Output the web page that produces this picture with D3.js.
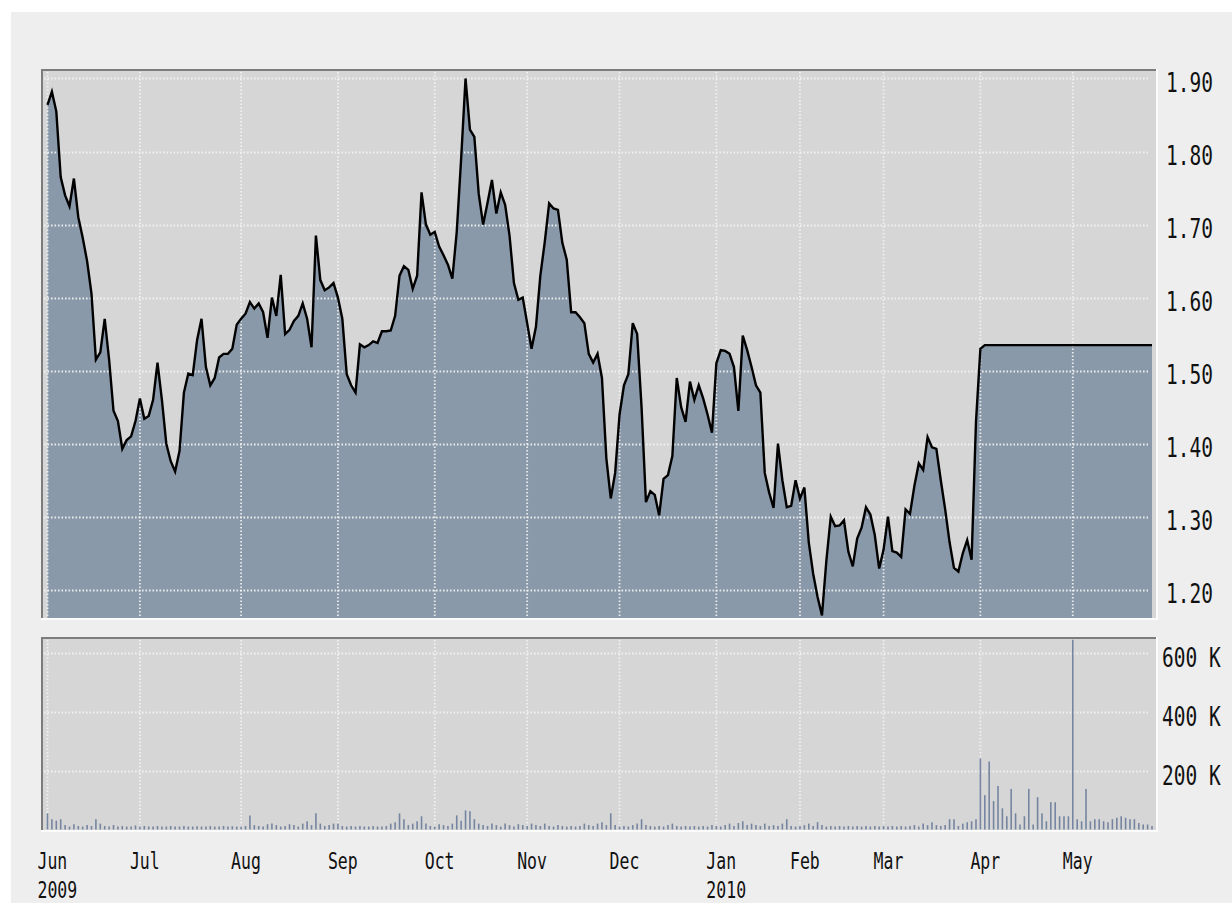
<!DOCTYPE html>
<html>
<head>
<meta charset="utf-8">
<script src="https://cdn.jsdelivr.net/npm/d3@7/dist/d3.min.js"></script>
<style>
  html, body { margin: 0; padding: 0; background: #ffffff; }
  svg { display: block; }
  text { font-family: "DejaVu Sans Mono", "Liberation Mono", monospace; fill: #111; }
</style>
</head>
<body>
<svg id="chart" width="1232" height="903"></svg>
<script>
// ---------------- DATA ----------------
// Daily closing price, one value per trading day (Jun 2009 - May 2010)
const prices = [
  1.864, 1.882, 1.855, 1.765, 1.740, 1.725, 1.763, 1.710, 1.682, 1.650,
  1.605, 1.515, 1.525, 1.571, 1.515, 1.445, 1.431, 1.393, 1.405, 1.410,
  1.431, 1.462, 1.434, 1.438, 1.460, 1.511, 1.460, 1.400, 1.376, 1.362,
  1.390, 1.470, 1.496, 1.494, 1.542, 1.571, 1.505, 1.480, 1.490, 1.518,
  1.523, 1.523, 1.530, 1.563, 1.571, 1.578, 1.594, 1.585, 1.592, 1.580,
  1.545, 1.600, 1.575, 1.631, 1.550, 1.556, 1.568, 1.575, 1.592, 1.571,
  1.532, 1.685, 1.624, 1.610, 1.614, 1.620, 1.600, 1.571, 1.495, 1.480,
  1.470, 1.536, 1.532, 1.535, 1.540, 1.538, 1.554, 1.554, 1.555, 1.575,
  1.630, 1.643, 1.638, 1.612, 1.630, 1.744, 1.700, 1.686, 1.690, 1.670,
  1.658, 1.645, 1.626, 1.690, 1.790, 1.900, 1.830, 1.820, 1.742, 1.700,
  1.730, 1.761, 1.715, 1.744, 1.727, 1.685, 1.620, 1.597, 1.600, 1.565,
  1.530, 1.560, 1.630, 1.676, 1.729, 1.722, 1.720, 1.675, 1.652, 1.580,
  1.580, 1.573, 1.565, 1.523, 1.511, 1.523, 1.490, 1.380, 1.325, 1.360,
  1.440, 1.480, 1.495, 1.565, 1.550, 1.450, 1.320, 1.335, 1.330, 1.302,
  1.352, 1.357, 1.383, 1.490, 1.450, 1.430, 1.485, 1.460, 1.480, 1.462,
  1.440, 1.415, 1.510, 1.528, 1.527, 1.523, 1.505, 1.445, 1.548, 1.528,
  1.505, 1.480, 1.470, 1.360, 1.333, 1.312, 1.400, 1.350, 1.313, 1.315,
  1.350, 1.325, 1.340, 1.265, 1.222, 1.190, 1.165, 1.240, 1.300, 1.287,
  1.288, 1.295, 1.252, 1.232, 1.270, 1.285, 1.313, 1.303, 1.275, 1.229,
  1.255, 1.300, 1.253, 1.251, 1.245, 1.310, 1.304, 1.342, 1.373, 1.364,
  1.409, 1.395, 1.393, 1.350, 1.310, 1.265, 1.230, 1.225, 1.250, 1.268,
  1.241, 1.430, 1.530, 1.535, 1.535, 1.535, 1.535, 1.535, 1.535, 1.535,
  1.535, 1.535, 1.535, 1.535, 1.535, 1.535, 1.535, 1.535, 1.535, 1.535,
  1.535, 1.535, 1.535, 1.535, 1.535, 1.535, 1.535, 1.535, 1.535, 1.535,
  1.535, 1.535, 1.535, 1.535, 1.535, 1.535, 1.535, 1.535, 1.535, 1.535,
  1.535, 1.535
];

// Daily volume in thousands of shares
const volumes = [
  55, 35, 30, 35, 15, 10, 18, 12, 10, 15,
  12, 35, 20, 12, 10, 15, 10, 12, 10, 10,
  14, 10, 12, 10, 10, 12, 10, 10, 12, 10,
  10, 12, 10, 10, 11, 10, 10, 12, 10, 10,
  12, 10, 11, 10, 10, 12, 48, 15, 12, 10,
  18, 20, 15, 10, 12, 18, 15, 10, 20, 28,
  15, 55, 20, 12, 15, 20, 20, 12, 10, 12,
  10, 12, 10, 10, 12, 10, 10, 12, 20, 25,
  55, 35, 15, 20, 28, 45, 20, 12, 10, 18,
  15, 12, 20, 48, 30, 65, 62, 35, 20, 15,
  12, 20, 15, 10, 20, 15, 10, 18, 15, 12,
  20, 15, 12, 20, 12, 10, 15, 12, 10, 12,
  10, 12, 20, 15, 12, 20, 25, 15, 55, 15,
  10, 12, 10, 15, 20, 35, 15, 12, 10, 12,
  10, 15, 20, 12, 10, 12, 10, 12, 10, 12,
  10, 15, 12, 10, 15, 20, 12, 22, 28, 15,
  20, 15, 12, 20, 12, 15, 12, 20, 35, 12,
  10, 12, 15, 20, 12, 25, 15, 10, 12, 10,
  12, 10, 12, 10, 12, 10, 12, 10, 12, 10,
  12, 10, 12, 10, 12, 10, 12, 15, 10, 20,
  15, 25, 15, 12, 15, 35, 35, 12, 20, 25,
  28, 35, 241, 117, 231, 97, 148, 72, 45, 138,
  55, 17, 45, 138, 17, 110, 55, 28, 93, 93,
  45, 45, 45, 645, 35, 28, 138, 28, 35, 35,
  28, 25, 35, 40, 45, 40, 35, 35, 22, 17,
  17, 12
];

// Month ticks: label and index of the month's first trading day
const monthLabels = ["Jun", "Jul", "Aug", "Sep", "Oct", "Nov", "Dec", "Jan", "Feb", "Mar", "Apr", "May"];
const monthStart  = [0, 21, 44, 66, 88, 109, 130, 152, 171, 190, 212, 233];
const yearLabels  = ["2009", "2010"];
const yearStart   = [0, 152];

const priceTicks  = [1.90, 1.80, 1.70, 1.60, 1.50, 1.40, 1.30, 1.20];
const volumeTicks = [600, 400, 200];

// ---------------- LAYOUT ----------------
const svg = d3.select("#chart");
const W = 1232, H = 903;

const P = { left: 43, right: 1156, top: 71, bottom: 618 };   // price plot inner box
const V = { left: 43, right: 1156, top: 639, bottom: 830 };  // volume plot inner box

const n = prices.length;
const x = d3.scaleLinear().domain([0, n - 1]).range([47.5, 1152]);
const yP = d3.scaleLinear().domain([1.16, 1.9116]).range([619, 70]);
const yV = d3.scaleLinear().domain([0, 600]).range([829.5, 653]);

// outer panel
svg.append("rect").attr("x", 11).attr("y", 12).attr("width", W - 11).attr("height", H - 12).attr("fill", "#eeeeee");

function panel(b) {
  const g = svg.append("g");
  g.append("rect").attr("x", b.left - 2).attr("y", b.top - 2)
    .attr("width", b.right - b.left + 4).attr("height", b.bottom - b.top + 4).attr("fill", "#fbfbfb");
  g.append("rect").attr("x", b.left - 2).attr("y", b.top - 2)
    .attr("width", b.right - b.left + 2).attr("height", b.bottom - b.top + 2).attr("fill", "#7c7c7c");
  g.append("rect").attr("x", b.left).attr("y", b.top)
    .attr("width", b.right - b.left).attr("height", b.bottom - b.top).attr("fill", "#d6d6d6");
  return g;
}

// ---------------- PRICE PANEL ----------------
panel(P);
const gp = svg.append("g");

const area = d3.area().x((d, i) => x(i)).y0(P.bottom).y1(d => yP(d));
gp.append("path").datum(prices).attr("d", area).attr("fill", "#8a99aa");

const gridStyle = sel => sel.attr("stroke", "#f4f4f4").attr("stroke-width", 1.8)
  .attr("stroke-dasharray", "1.6,1.9").attr("opacity", 0.9);

gp.selectAll("line.hg").data(priceTicks).join("line")
  .attr("x1", P.left + 1).attr("x2", 1148)
  .attr("y1", d => Math.round(yP(d)) + 0.5).attr("y2", d => Math.round(yP(d)) + 0.5)
  .call(gridStyle);
gp.selectAll("line.vg").data(monthStart).join("line")
  .attr("x1", d => x(d)).attr("x2", d => x(d))
  .attr("y1", P.top + 1).attr("y2", P.bottom)
  .call(gridStyle);

const line = d3.line().x((d, i) => x(i)).y(d => yP(d));
gp.append("path").datum(prices).attr("d", line)
  .attr("fill", "none").attr("stroke", "#000").attr("stroke-width", 2.4).attr("stroke-linejoin", "miter");

// price labels
svg.append("g").selectAll("text").data(priceTicks).join("text")
  .attr("transform", d => `translate(1166,${yP(d) + 13.5}) scale(1,1.38)`)
  .attr("font-size", 19.5)
  .text(d => d.toFixed(2));

// ---------------- VOLUME PANEL ----------------
panel(V);
const gv = svg.append("g");

gv.selectAll("line.hg").data(volumeTicks).join("line")
  .attr("x1", V.left + 1).attr("x2", 1148)
  .attr("y1", d => Math.round(yV(d)) + 0.5).attr("y2", d => Math.round(yV(d)) + 0.5)
  .call(gridStyle);
gv.selectAll("line.vg").data(monthStart).join("line")
  .attr("x1", d => x(d)).attr("x2", d => x(d))
  .attr("y1", V.top + 1).attr("y2", V.bottom)
  .call(gridStyle);

gv.selectAll("line.bar").data(volumes).join("line")
  .attr("x1", (d, i) => x(i)).attr("x2", (d, i) => x(i))
  .attr("y1", yV(0)).attr("y2", d => yV(d))
  .attr("stroke", "#7585a0").attr("stroke-width", 1.6);

svg.append("g").selectAll("text").data(volumeTicks).join("text")
  .attr("transform", d => `translate(1162,${yV(d) + 14}) scale(1,1.38)`)
  .attr("font-size", 19.5)
  .text(d => d + " K");

// ---------------- X AXIS LABELS ----------------
svg.append("g").selectAll("text").data(monthLabels).join("text")
  .attr("transform", (d, i) => `translate(${x(monthStart[i]) - 10},869) scale(1,1.42)`)
  .attr("font-size", 16.5)
  .text(d => d);
svg.append("g").selectAll("text").data(yearLabels).join("text")
  .attr("transform", (d, i) => `translate(${x(yearStart[i]) - 10},898) scale(1,1.42)`)
  .attr("font-size", 16.5)
  .text(d => d);
</script>
</body>
</html>
